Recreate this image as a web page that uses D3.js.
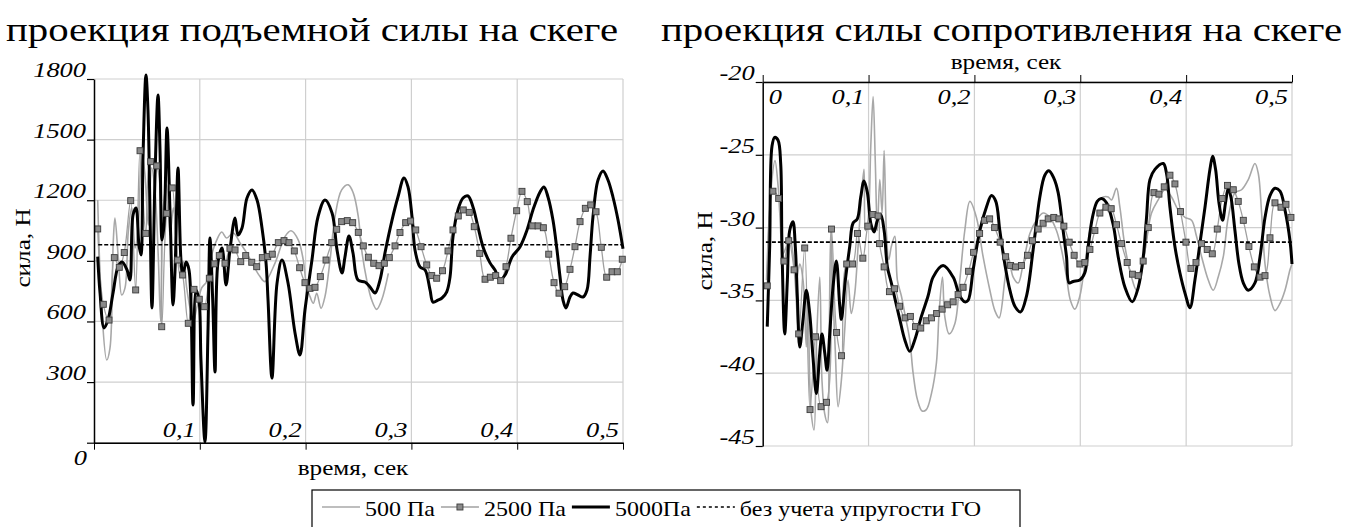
<!DOCTYPE html>
<html lang="ru">
<head>
<meta charset="UTF-8">
<script src="https://cdn.jsdelivr.net/npm/d3@7.8.5/dist/d3.min.js"></script>
<title>Проекции сил на скеге</title>
<style>
    body { margin: 0; background: #fff; }
    text { font-family: "Liberation Serif", "DejaVu Serif", serif; fill: #000; }
    .grid line { stroke: #cfcfcf; stroke-width: 1.2; }
</style>
</head>
<body>
<svg width="1348" height="527"></svg>
<script>
// ---- data ----
var timeTicks = [0, 0.1, 0.2, 0.3, 0.4, 0.5];
var liftTicks = [0, 300, 600, 900, 1200, 1500, 1800];
var dragTicks = [-45, -40, -35, -30, -25, -20];

// lift, 500 Pa (ends near 0.28 s)
var lift500T = [0.0035,0.0073,0.012,0.0151,0.0182,0.0198,0.023,0.0262,0.0293,0.0324,0.0356,0.0388,0.0419,0.0451,0.0482,0.0513,0.0545,0.0577,0.0608,0.063,0.0655,0.0687,0.0718,0.075,0.0782,0.0813,0.0844,0.0876,0.0907,0.0939,0.0971,0.1018,0.1065,0.1112,0.116,0.1207,0.1254,0.1317,0.138,0.1443,0.1503,0.1569,0.1616,0.1711,0.1805,0.1862,0.1931,0.1978,0.201,0.2042,0.2073,0.2105,0.2146,0.2183,0.2231,0.2278,0.2341,0.2404,0.2451,0.2498,0.253,0.2578,0.2625,0.2672,0.2719,0.2782];
var lift500V = [1201,667,409,468,995,1112,914,731,766,1044,1162,964,1077,1441,1325,1077,1360,1243,914,599,1162,1276,1028,1162,964,830,896,766,667,599,667,766,797,929,1003,1043,1013,1038,989,939,880,822,797,889,1020,1049,1003,904,772,723,690,740,665,723,904,1119,1251,1276,1235,1119,954,805,706,660,706,838];

// lift, 2500 Pa
var lift2500T = [0.0035,0.0088,0.0142,0.0192,0.0239,0.0286,0.0347,0.0394,0.0435,0.0489,0.0536,0.0593,0.064,0.0687,0.074,0.0791,0.0838,0.0891,0.0945,0.0995,0.1043,0.109,0.1137,0.1184,0.1238,0.1285,0.1333,0.1387,0.1434,0.1491,0.1538,0.1591,0.1642,0.1685,0.1742,0.1796,0.1843,0.1893,0.1944,0.1994,0.2042,0.2089,0.2139,0.2193,0.2247,0.2294,0.2341,0.2394,0.2445,0.2498,0.2545,0.2593,0.2644,0.2694,0.2744,0.2791,0.2845,0.2892,0.2946,0.2993,0.3041,0.3091,0.3145,0.3192,0.3239,0.3294,0.3346,0.3393,0.3443,0.349,0.3547,0.3594,0.3646,0.3696,0.3746,0.3797,0.3844,0.3894,0.3941,0.3995,0.4045,0.4095,0.4146,0.4197,0.4247,0.4298,0.4348,0.4395,0.4449,0.4499,0.4546,0.4594,0.4644,0.4695,0.4745,0.4795,0.4846,0.4896,0.4946,0.4993];
var lift2500V = [1058,685,607,916,868,941,1198,756,1445,1036,1391,1370,574,1135,1261,904,830,591,759,710,673,814,885,926,888,962,954,896,926,893,871,916,921,933,990,1000,990,949,866,792,764,769,822,904,990,1056,1094,1099,1089,1041,974,918,888,876,888,916,974,1040,1089,1097,1053,970,880,827,814,851,949,1053,1122,1152,1140,1069,937,809,819,827,802,871,1012,1148,1244,1193,1073,1073,1064,933,792,740,772,858,970,1094,1160,1177,1143,967,819,846,846,908];

// lift, 5000 Pa
var lift5000T = [0.0035,0.0057,0.0095,0.0132,0.018,0.0227,0.0265,0.0312,0.034,0.0369,0.0397,0.0425,0.0444,0.0463,0.0491,0.051,0.0529,0.0548,0.0577,0.0605,0.0624,0.0643,0.0662,0.069,0.0718,0.0747,0.0766,0.0794,0.0822,0.0841,0.087,0.0898,0.0936,0.0964,0.0992,0.1011,0.1049,0.1078,0.1096,0.1122,0.1144,0.1172,0.121,0.1248,0.1285,0.1333,0.1361,0.1399,0.1446,0.1493,0.1541,0.1588,0.1626,0.1645,0.1682,0.173,0.1777,0.1834,0.19,0.1947,0.1994,0.206,0.2117,0.2183,0.225,0.2297,0.2344,0.2372,0.241,0.2448,0.2495,0.2561,0.2609,0.2656,0.2703,0.275,0.2817,0.2873,0.293,0.2968,0.3006,0.3034,0.3081,0.3129,0.3176,0.3204,0.3251,0.3289,0.3334,0.3365,0.3393,0.344,0.3488,0.3535,0.3582,0.3629,0.3677,0.3743,0.379,0.3837,0.3885,0.3951,0.4026,0.4093,0.4149,0.4216,0.4253,0.4291,0.4338,0.4376,0.4405,0.4433,0.4461,0.4499,0.4527,0.4575,0.4622,0.466,0.4688,0.4716,0.4764,0.4811,0.4858,0.4905,0.4953,0.5];
var lift5000V = [921,741,568,607,741,870,894,855,805,1127,1162,979,929,1409,1820,1647,1152,667,1325,1721,1449,1003,1078,1558,1152,682,855,1360,904,830,894,855,187,756,706,409,3,568,1013,706,350,894,964,781,954,1112,1028,1063,1211,1251,1201,1063,890,706,320,790,904,790,543,434,657,904,1117,1201,1137,954,840,919,1023,939,805,795,771,741,805,939,1102,1216,1310,1266,1117,954,870,855,756,696,706,716,747,820,1018,1152,1211,1221,1167,1068,969,890,855,805,830,919,969,1053,1152,1241,1266,1216,1102,954,820,706,667,721,741,731,721,756,919,1117,1300,1345,1300,1216,1102,960];

// drag, 500 Pa
var drag500T = [0.0036,0.0078,0.0116,0.0145,0.0161,0.0192,0.0223,0.0255,0.0286,0.0318,0.035,0.0381,0.0412,0.0428,0.0444,0.0459,0.0485,0.0507,0.0539,0.056,0.0586,0.0611,0.0627,0.0643,0.0664,0.0686,0.0712,0.0743,0.0775,0.0806,0.0837,0.087,0.0901,0.0932,0.0957,0.097,0.0995,0.1021,0.1043,0.1064,0.1083,0.1106,0.1128,0.1147,0.1168,0.1191,0.1215,0.1248,0.1272,0.131,0.1342,0.1389,0.1421,0.1461,0.1506,0.1546,0.1594,0.1641,0.1666,0.1698,0.172,0.1761,0.1815,0.1862,0.1909,0.1957,0.2019,0.2082,0.2146,0.2193,0.2233,0.2287,0.2319,0.2366,0.2413,0.246,0.2524,0.2586,0.2649,0.2713,0.2775,0.2822,0.287,0.2907,0.2949,0.2996,0.3043,0.3091,0.3153,0.3216,0.3264,0.3295,0.3342,0.3374,0.3422,0.3484,0.3531,0.3578,0.3626,0.3673,0.3736,0.38,0.3862,0.3925,0.3989,0.4051,0.4098,0.4146,0.4209,0.4256,0.4303,0.4351,0.4398,0.4461,0.4524,0.4587,0.465,0.4682,0.4713,0.4745,0.4792,0.4839,0.4887,0.4934,0.4981,0.5];
var drag500V = [-33.6,-27.4,-25.4,-27.1,-29.0,-31.8,-31.3,-30.6,-31.8,-33.6,-32.5,-33.6,-38.2,-34.5,-40.5,-42.8,-43.9,-38.2,-33.4,-40.5,-42.8,-43.4,-38.2,-30.2,-34.7,-38.5,-42.3,-40.5,-37.0,-33.6,-35.9,-34.5,-31.3,-27.9,-26.0,-30.2,-29.5,-24.4,-21.0,-25.6,-30.2,-26.7,-29.0,-24.7,-30.2,-32.2,-31.3,-30.6,-33.6,-34.7,-35.9,-37.7,-40.0,-41.8,-42.6,-42.5,-41.4,-39.3,-35.9,-33.4,-36.1,-37.3,-36.6,-33.6,-30.2,-28.2,-29.3,-32.0,-34.3,-35.7,-36.2,-33.6,-32.0,-33.4,-33.8,-32.5,-30.4,-29.5,-29.0,-29.3,-30.2,-31.5,-33.4,-35.0,-35.6,-34.7,-32.5,-30.2,-28.3,-27.9,-27.9,-28.1,-27.3,-28.6,-31.3,-33.4,-34.3,-33.1,-30.9,-29.0,-28.1,-27.4,-27.9,-28.8,-29.3,-29.5,-30.6,-32.0,-33.6,-34.3,-33.4,-32.0,-29.3,-27.6,-27.4,-26.7,-25.6,-26.3,-29.0,-32.5,-34.7,-35.7,-35.2,-34.3,-32.9,-32.5];

// drag, 2500 Pa
var drag2500T = [0.0043,0.0097,0.0151,0.0201,0.0246,0.0296,0.034,0.0397,0.0447,0.0499,0.0551,0.0603,0.065,0.0698,0.0745,0.0794,0.0849,0.0896,0.0946,0.0993,0.1041,0.109,0.1104,0.1147,0.1197,0.1246,0.1293,0.1345,0.1395,0.1444,0.1493,0.1545,0.1595,0.1643,0.1695,0.1747,0.1799,0.1846,0.1893,0.1945,0.1992,0.2049,0.2096,0.2144,0.2191,0.2243,0.2295,0.2342,0.2389,0.2444,0.2501,0.2548,0.2602,0.2649,0.2697,0.275,0.2798,0.2845,0.2895,0.2942,0.2996,0.3043,0.3091,0.3138,0.3185,0.3242,0.3292,0.3342,0.3389,0.3443,0.3493,0.3547,0.3594,0.3642,0.3696,0.3743,0.3793,0.3847,0.3894,0.3947,0.3998,0.4045,0.4093,0.4146,0.4199,0.4247,0.4294,0.4341,0.4391,0.4445,0.4492,0.454,0.4593,0.4644,0.4698,0.4745,0.4792,0.4839,0.4896,0.4943,0.499];
var drag2500V = [-34.0,-27.5,-28.0,-32.3,-30.9,-32.9,-37.3,-31.4,-42.5,-37.5,-42.3,-42.0,-30.1,-37.2,-38.8,-32.5,-32.5,-30.4,-32.1,-29.9,-29.1,-29.2,-31.1,-32.7,-34.4,-34.2,-35.4,-36.2,-36.1,-36.8,-36.9,-36.4,-36.2,-35.9,-35.6,-35.3,-35.1,-34.6,-34.1,-33.0,-31.7,-30.4,-29.5,-29.4,-30.0,-31.0,-32.0,-32.6,-32.7,-32.6,-31.9,-30.9,-30.1,-29.7,-29.4,-29.3,-29.4,-29.9,-31.0,-31.9,-32.5,-32.4,-31.5,-30.2,-29.0,-28.6,-28.7,-29.8,-31.1,-32.4,-33.2,-33.3,-32.3,-30.0,-27.6,-27.7,-27.2,-26.4,-27.0,-28.9,-31.0,-32.8,-32.4,-31.1,-31.5,-31.8,-30.1,-28.0,-27.1,-27.4,-28.2,-29.5,-31.3,-32.7,-33.4,-33.3,-30.7,-28.3,-28.6,-28.4,-29.3];

// drag, 5000 Pa
var drag5000T = [0.0043,0.0066,0.0088,0.0113,0.0145,0.017,0.0182,0.0208,0.0233,0.0255,0.0286,0.0308,0.0327,0.035,0.0381,0.0412,0.0444,0.0475,0.0507,0.0539,0.056,0.0586,0.0608,0.0633,0.0664,0.0696,0.0728,0.0743,0.0781,0.0822,0.0853,0.0894,0.0926,0.0957,0.0989,0.1021,0.1052,0.1083,0.1115,0.1147,0.1178,0.1215,0.1253,0.1295,0.1342,0.1389,0.1437,0.1499,0.1562,0.161,0.1704,0.1799,0.1862,0.1909,0.194,0.1988,0.2051,0.2113,0.2161,0.2202,0.224,0.2287,0.2335,0.2382,0.2435,0.2492,0.2555,0.2618,0.2665,0.2703,0.275,0.2791,0.2838,0.287,0.2895,0.2933,0.2996,0.3043,0.3075,0.3115,0.316,0.32,0.3248,0.3311,0.3358,0.3422,0.3491,0.3548,0.3595,0.3626,0.3658,0.3705,0.3784,0.3815,0.3847,0.3894,0.3941,0.3989,0.4036,0.4083,0.413,0.4178,0.4225,0.425,0.4278,0.431,0.4344,0.4372,0.4398,0.4423,0.4461,0.4499,0.454,0.4587,0.465,0.4698,0.4745,0.4792,0.4839,0.4887,0.4934,0.4981,0.5];
var drag5000V = [-36.8,-31.3,-24.4,-23.8,-24.0,-25.6,-31.3,-37.3,-33.6,-30.2,-29.6,-31.3,-34.7,-38.2,-36.3,-34.3,-35.9,-38.9,-41.4,-38.6,-37.3,-38.6,-39.8,-37.3,-34.1,-32.3,-35.4,-36.3,-33.6,-31.3,-29.7,-29.4,-27.9,-26.8,-27.6,-29.7,-30.3,-29.5,-29.1,-30.2,-32.7,-33.8,-35.0,-36.3,-37.7,-38.5,-37.7,-36.1,-34.7,-33.4,-32.6,-33.4,-34.7,-35.1,-35.0,-32.9,-30.2,-28.6,-27.8,-28.2,-30.2,-32.5,-34.3,-35.4,-35.8,-34.7,-31.5,-27.9,-26.4,-26.1,-26.6,-27.6,-30.2,-32.0,-33.8,-33.7,-33.6,-33.1,-31.3,-29.3,-28.2,-28.0,-28.3,-29.8,-32.0,-34.1,-35.1,-34.1,-32.0,-29.3,-26.7,-26.0,-25.6,-26.3,-28.6,-31.3,-33.1,-34.5,-35.5,-33.6,-31.1,-28.6,-26.0,-25.1,-26.0,-28.3,-29.5,-28.3,-27.3,-27.9,-30.2,-32.5,-33.8,-34.3,-33.8,-32.0,-29.3,-27.8,-27.3,-27.5,-28.8,-30.9,-32.5];

// reference level without elasticity (dashed)
var liftRefT = [0.004, 0.5], liftRefV = [980, 980];
var dragRefT = [0.003, 0.5], dragRefV = [-31.0, -31.0];

var legendLabels = ["500 Па", "2500 Па", "5000Па", "без учета упругости ГО"];

// ---- drawing ----
var SX = 1.2; // the picture is stretched sideways
var svg = d3.select("svg");

function zip(ts, vs) { return ts.map(function(t, i) { return [t, vs[i]]; }); }
function fmtTime(d) { return d === 0 ? "0" : d.toFixed(1).replace(".", ","); }

function stext(g, str, x, y, size, anchor, italic) {
    return g.append("text")
        .attr("transform", "translate(" + x + "," + y + ") scale(" + SX + ",1)")
        .attr("text-anchor", anchor || "start")
        .style("font-size", size + "px")
        .style("font-style", italic ? "italic" : "normal")
        .text(str);
}

function drawPanel(p) {
    var x = d3.scaleLinear().domain([0, 0.5]).range([p.x0, p.x1]);
    var y = d3.scaleLinear().domain(p.yDomain).range([p.yBottom, p.yTop]);
    var g = svg.append("g");

    // grid
    var grid = g.append("g").attr("class", "grid");
    grid.selectAll(".gx").data(timeTicks.filter(function(d){ return d > 0; })).enter().append("line")
        .attr("x1", function(d){ return x(d); }).attr("x2", function(d){ return x(d); })
        .attr("y1", p.yTop).attr("y2", p.yBottom);
    grid.selectAll(".gy").data(p.yTicks).enter().append("line")
        .attr("x1", p.x0).attr("x2", p.x1)
        .attr("y1", function(d){ return y(d); }).attr("y2", function(d){ return y(d); });

    // series
    var line = d3.line().x(function(d){ return x(d[0]); }).y(function(d){ return y(d[1]); })
        .curve(d3.curveCatmullRom.alpha(0.5));
    g.append("path").datum(zip(p.s500T, p.s500V)).attr("d", line)
        .attr("fill", "none").attr("stroke", "#a8a8a8").attr("stroke-width", 1.6);
    g.append("path").datum(zip(p.s2500T, p.s2500V)).attr("d", line)
        .attr("fill", "none").attr("stroke", "#a0a0a0").attr("stroke-width", 1.3);
    g.append("path").datum(zip(p.refT, p.refV)).attr("d", d3.line().x(function(d){ return x(d[0]); }).y(function(d){ return y(d[1]); }))
        .attr("fill", "none").attr("stroke", "#000").attr("stroke-width", 1.6).attr("stroke-dasharray", "4,2");
    g.append("path").datum(zip(p.s5000T, p.s5000V)).attr("d", line)
        .attr("fill", "none").attr("stroke", "#000").attr("stroke-width", 3);
    g.selectAll(".sq").data(zip(p.s2500T, p.s2500V)).enter().append("rect")
        .attr("x", function(d){ return x(d[0]) - 3; }).attr("y", function(d){ return y(d[1]) - 3; })
        .attr("width", 6).attr("height", 6)
        .attr("fill", "#8a8a8a").attr("stroke", "#3c3c3c").attr("stroke-width", 0.9);

    // y axis
    var ya = g.append("g").attr("transform", "translate(" + p.x0 + ",0)")
        .call(d3.axisLeft(y).tickValues(p.yTicks).tickSize(7).tickSizeOuter(0).tickFormat(""));
    ya.select(".domain").attr("stroke-width", 1.5);
    ya.selectAll(".tick line").attr("stroke-width", 1.2);
    p.yTicks.forEach(function(d) {
        if (p.skipY0 && d === 0) return;
        stext(g, String(d), p.x0 - 8, y(d) - 2, 22, "end", true);
    });

    // x axis
    var axisY = p.xTop ? p.yTop : p.yBottom;
    var xa = g.append("g").attr("transform", "translate(0," + axisY + ")")
        .call((p.xTop ? d3.axisTop(x) : d3.axisBottom(x)).tickValues(timeTicks).tickSize(7).tickSizeOuter(0).tickFormat(""));
    xa.select(".domain").attr("stroke-width", 1.5);
    timeTicks.forEach(function(d) {
        if (d === 0) {
            if (p.xTop) stext(g, "0", x(d) + 6, axisY + 22, 22, "start", true);
            else stext(g, "0", x(d) - 7, axisY + 22, 22, "end", true);
        } else {
            stext(g, fmtTime(d), x(d) - 4, p.xTop ? axisY + 22 : axisY - 6, 22, "end", true);
        }
    });

    // titles
    stext(g, p.title, p.titleX, 41, 34, p.titleAnchor);
    stext(g, "время, сек", p.xLabelX, p.xLabelY, 21, "middle");
    g.append("text")
        .attr("transform", "translate(" + p.yLabelX + "," + p.yLabelY + ") scale(1," + SX + ") rotate(-90)")
        .attr("text-anchor", "middle").style("font-size", "21px").text("сила, Н");
}

drawPanel({
    x0: 94, x1: 623, yTop: 79, yBottom: 442.7, yDomain: [0, 1800], yTicks: liftTicks,
    s500T: lift500T, s500V: lift500V, s2500T: lift2500T, s2500V: lift2500V,
    s5000T: lift5000T, s5000V: lift5000V, refT: liftRefT, refV: liftRefV,
    xTop: false, skipY0: true,
    title: "проекция подъемной силы на скеге", titleX: 6, titleAnchor: "start",
    xLabelX: 353, xLabelY: 475, yLabelX: 30, yLabelY: 248
});
drawPanel({
    x0: 762.7, x1: 1292, yTop: 82, yBottom: 446, yDomain: [-45, -20], yTicks: dragTicks,
    s500T: drag500T, s500V: drag500V, s2500T: drag2500T, s2500V: drag2500V,
    s5000T: drag5000T, s5000V: drag5000V, refT: dragRefT, refV: dragRefV,
    xTop: true, skipY0: false,
    title: "проекция силы сопротивления на скеге", titleX: 1342, titleAnchor: "end",
    xLabelX: 1006, xLabelY: 69, yLabelX: 712, yLabelY: 251
});

// legend
var lg = svg.append("g");
lg.append("rect").attr("x", 312).attr("y", 490).attr("width", 708).attr("height", 50)
    .attr("fill", "#fff").attr("stroke", "#000").attr("stroke-width", 1.2);
var styles = [
    { stroke: "#a8a8a8", w: 1.6, dash: null, marker: false },
    { stroke: "#a0a0a0", w: 1.3, dash: null, marker: true },
    { stroke: "#000", w: 3, dash: null, marker: false },
    { stroke: "#000", w: 1.6, dash: "3,3", marker: false }
];
var cx = 322, ly = 507;
legendLabels.forEach(function(lbl, i) {
    var s = styles[i];
    lg.append("line").attr("x1", cx).attr("x2", cx + 38).attr("y1", ly).attr("y2", ly)
        .attr("stroke", s.stroke).attr("stroke-width", s.w).attr("stroke-dasharray", s.dash);
    if (s.marker) lg.append("rect").attr("x", cx + 16).attr("y", ly - 3).attr("width", 6).attr("height", 6)
        .attr("fill", "#8a8a8a").attr("stroke", "#3c3c3c").attr("stroke-width", 0.9);
    var t = stext(lg, lbl, cx + 43, ly + 9, 20, "start");
    cx += 43 + t.node().getComputedTextLength() * SX + 6;
});
</script>
</body>
</html>
